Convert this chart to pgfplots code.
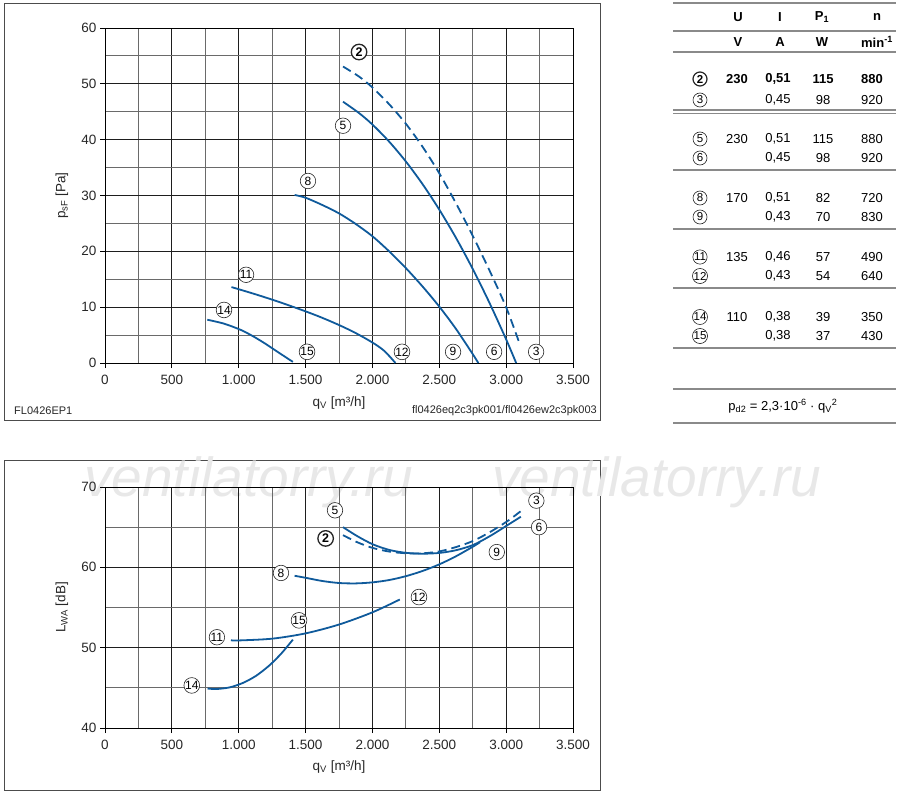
\documentclass[border=0pt]{standalone}
\usepackage{fontspec}
\setmainfont{Liberation Sans}
\usepackage{pgfplots}
\pgfplotsset{compat=1.18}
\definecolor{curve}{HTML}{0F5A9B}
\definecolor{gridmaj}{HTML}{1E1E1E}
\definecolor{gridmin}{HTML}{6A6A6A}
\definecolor{rulec}{HTML}{8A8A8A}
\newcommand\fs[1]{\fontsize{#1}{#1}\selectfont}
\tikzset{
  cl/.style={circle, draw=black!85, line width=0.6pt, fill=white, inner sep=0pt, minimum size=15.5pt, font=\fs{12}},
  clb/.style={cl, line width=1.3pt, font=\bfseries\fs{12.5}},
  tc/.style={circle, draw=black!85, line width=0.6pt, inner sep=0pt, minimum size=14pt, font=\fs{11.5}},
  tcb/.style={tc, line width=1.2pt, font=\bfseries\fs{11.5}},
  tt/.style={font=\fs{13}, inner sep=0pt, anchor=center},
}
\pgfplotsset{
  fanaxis/.style={
    scale only axis, anchor=south west, width=468pt, clip=false,
    xmin=0, xmax=3500, xtick={0,500,...,3500},
    xticklabels={0,500,1.000,1.500,2.000,2.500,3.000,3.500},
    minor xtick={250,750,...,3250},
    grid=both,
    major grid style={draw=gridmaj, line width=0.9pt},
    minor grid style={draw=gridmin, line width=0.85pt},
    axis line style={draw=black, line width=1pt},
    tick align=outside, major tick length=5pt, minor tick length=0pt,
    xtick pos=bottom, ytick pos=left,
    tick style={black, line width=0.8pt},
    ticklabel style={font=\fs{13.5}, text=black!85},
    xticklabel style={yshift=-4pt},
    xlabel={q\textsubscript{V} [m³/h]},
  },
  fan/.style={draw=curve, line width=1.8pt, smooth, tension=0.5, no marks},
  fandash/.style={fan, dash pattern=on 9pt off 5pt},
}
\begin{document}
\begin{tikzpicture}
\path[use as bounding box] (0pt,0pt) rectangle (900pt,-797pt);
% frames
\draw[black!70, line width=1pt] (4pt,-4pt) rectangle (600pt,-420pt);
\draw[black!70, line width=1pt] (4pt,-460pt) rectangle (600pt,-790pt);
% watermark
\node[anchor=base west, inner sep=0pt, text=black!9, font=\itshape\fs{55}] at (84pt,-496pt) {ventilatorry.ru};
\node[anchor=base west, inner sep=0pt, text=black!9, font=\itshape\fs{55}] at (492pt,-496pt) {ventilatorry.ru};
% footer texts
\node[anchor=west, inner sep=0pt, font=\fs{11}, text=black!85] at (14pt,-411pt) {FL0426EP1};
\node[anchor=east, inner sep=0pt, font=\fs{11}, text=black!85] at (597pt,-411pt) {fl0426eq2c3pk001/fl0426ew2c3pk003};

% ---------- top: pressure ----------
\begin{axis}[fanaxis, at={(105pt,-363pt)}, height=335pt,
  ymin=0, ymax=60, ytick={0,10,...,60}, yticklabels={0,10,20,30,40,50,60},
  minor ytick={5,15,...,55},
  ylabel={p\textsubscript{sF} [Pa]},
  every axis x label/.style={at={(axis description cs:0.5,-0.119)}, anchor=center, font=\fs{13.5}, text=black!85},
  every axis y label/.style={at={(axis description cs:-0.092,0.5)}, rotate=90, anchor=center, font=\fs{13.5}, text=black!85},
]
\addplot[fandash] coordinates {(1780,53.1) (1900,51.3) (2000,49.35) (2125,46.35) (2250,42.85) (2375,38.73) (2500,33.98) (2625,28.6) (2750,22.79) (2875,16.6) (3000,9.98) (3100,3.5)};
\addplot[fan] coordinates {(1780,46.8) (1900,44.76) (2000,42.71) (2125,39.65) (2250,36.09) (2375,32.03) (2500,27.47) (2625,22.41) (2750,16.85) (2875,10.79) (3000,4.23) (3075,0)};
\addplot[fan] coordinates {(1418,30.1) (1500,29.6) (1625,28.3) (1750,26.8) (1875,24.9) (2000,22.7) (2125,20.0) (2250,17.0) (2375,13.7) (2500,10.1) (2625,6.1) (2750,1.6) (2792,0)};
\addplot[fan] coordinates {(946,13.6) (1125,12.31) (1305,10.91) (1500,9.25) (1625,8.09) (1755,6.75) (1875,5.36) (2000,3.67) (2090,2.14) (2172,0)};
\addplot[fan] coordinates {(765,7.75) (890,7.05) (1018,5.9) (1110,4.75) (1193,3.55) (1300,1.85) (1405,0.2)};
\node[clb] at (axis cs:1900,55.7) {2};
\node[cl] at (axis cs:1780,42.5) {5};
\node[cl] at (axis cs:1518,32.6) {8};
\node[cl] at (axis cs:1055,15.8) {11};
\node[cl] at (axis cs:890,9.5) {14};
\node[cl] at (axis cs:1511,2.0) {15};
\node[cl] at (axis cs:2221,2.0) {12};
\node[cl] at (axis cs:2603,2.0) {9};
\node[cl] at (axis cs:2910,2.0) {6};
\node[cl] at (axis cs:3224,2.0) {3};
\end{axis}

% ---------- bottom: sound ----------
\begin{axis}[fanaxis, at={(105pt,-728pt)}, height=241pt,
  ymin=40, ymax=70, ytick={40,50,60,70}, yticklabels={40,50,60,70},
  minor ytick={45,55,65},
  ylabel={L\textsubscript{WA} [dB]},
  every axis x label/.style={at={(axis description cs:0.5,-0.162)}, anchor=center, font=\fs{13.5}, text=black!85},
  every axis y label/.style={at={(axis description cs:-0.092,0.5)}, rotate=90, anchor=center, font=\fs{13.5}, text=black!85},
]
\addplot[fan] coordinates {(1780,65.0) (1890,63.85) (2005,62.85) (2130,62.15) (2255,61.8) (2380,61.7) (2505,61.8) (2630,62.15) (2755,62.8) (2880,63.9) (3005,65.2) (3110,66.3)};
\addplot[fandash] coordinates {(1780,64.0) (1890,63.1) (2005,62.4) (2130,61.95) (2255,61.75) (2380,61.75) (2505,62.0) (2630,62.55) (2755,63.3) (2880,64.4) (3005,65.7) (3110,67.0)};
\addplot[fan] coordinates {(1418,58.95) (1500,58.7) (1625,58.3) (1750,58.05) (1875,58.0) (2000,58.13) (2125,58.42) (2250,58.9) (2375,59.55) (2500,60.37) (2625,61.38) (2750,62.56) (2805,63.13)};
\addplot[fan] coordinates {(942,50.92) (1000,50.9) (1250,51.12) (1500,51.78) (1750,52.88) (2000,54.4) (2205,56.0)};
\addplot[fan] coordinates {(767,44.92) (830,44.85) (930,45.05) (1030,45.6) (1130,46.5) (1230,47.8) (1320,49.3) (1405,51.0)};
\node[cl] at (axis cs:1720,67.1) {5};
\node[clb] at (axis cs:1650,63.6) {2};
\node[cl] at (axis cs:3226,68.3) {3};
\node[cl] at (axis cs:3246,65.0) {6};
\node[cl] at (axis cs:2930,61.9) {9};
\node[cl] at (axis cs:1316,59.3) {8};
\node[cl] at (axis cs:2348,56.3) {12};
\node[cl] at (axis cs:1451,53.4) {15};
\node[cl] at (axis cs:837,51.3) {11};
\node[cl] at (axis cs:649,45.3) {14};
\end{axis}

% ---------- table ----------
\foreach \yy in {3,31,52,110,113.5,170,229,288,348,389,423}
  \draw[rulec, line width=1.1pt] (673pt,-\yy pt) -- (896pt,-\yy pt);
\node[tt, font=\bfseries\fs{13}] at (738pt,-17pt) {U};
\node[tt, font=\bfseries\fs{13}] at (780pt,-17pt) {I};
\node[tt, font=\bfseries\fs{13}] at (822pt,-17pt) {P\textsubscript{1}};
\node[tt, font=\bfseries\fs{13}] at (877pt,-17pt) {n};
\node[tt, font=\bfseries\fs{13}] at (738pt,-42pt) {V};
\node[tt, font=\bfseries\fs{13}] at (780pt,-42pt) {A};
\node[tt, font=\bfseries\fs{13}] at (822pt,-42pt) {W};
\node[tt, font=\bfseries\fs{13}] at (877pt,-42pt) {min\textsuperscript{-1}};
% rows
\node[tcb] at (700pt,-79pt) {2};
\node[tt, font=\bfseries\fs{13}] at (737pt,-79pt) {230};
\node[tt, font=\bfseries\fs{13}] at (778pt,-79pt) {0,51};
\node[tt, font=\bfseries\fs{13}] at (823pt,-79pt) {115};
\node[tt, font=\bfseries\fs{13}] at (872pt,-79pt) {880};
\node[tc] at (700pt,-100pt) {3};
\node[tt] at (778pt,-100pt) {0,45};
\node[tt] at (823pt,-100pt) {98};
\node[tt] at (872pt,-100pt) {920};
\node[tc] at (700pt,-139pt) {5};
\node[tt] at (737pt,-139pt) {230};
\node[tt] at (778pt,-139pt) {0,51};
\node[tt] at (823pt,-139pt) {115};
\node[tt] at (872pt,-139pt) {880};
\node[tc] at (700pt,-158pt) {6};
\node[tt] at (778pt,-158pt) {0,45};
\node[tt] at (823pt,-158pt) {98};
\node[tt] at (872pt,-158pt) {920};
\node[tc] at (700pt,-198pt) {8};
\node[tt] at (737pt,-198pt) {170};
\node[tt] at (778pt,-198pt) {0,51};
\node[tt] at (823pt,-198pt) {82};
\node[tt] at (872pt,-198pt) {720};
\node[tc] at (700pt,-217pt) {9};
\node[tt] at (778pt,-217pt) {0,43};
\node[tt] at (823pt,-217pt) {70};
\node[tt] at (872pt,-217pt) {830};
\node[tc] at (700pt,-257pt) {11};
\node[tt] at (737pt,-257pt) {135};
\node[tt] at (778pt,-257pt) {0,46};
\node[tt] at (823pt,-257pt) {57};
\node[tt] at (872pt,-257pt) {490};
\node[tc] at (700pt,-276pt) {12};
\node[tt] at (778pt,-276pt) {0,43};
\node[tt] at (823pt,-276pt) {54};
\node[tt] at (872pt,-276pt) {640};
\node[tc] at (700pt,-317pt) {14};
\node[tt] at (737pt,-317pt) {110};
\node[tt] at (778pt,-317pt) {0,38};
\node[tt] at (823pt,-317pt) {39};
\node[tt] at (872pt,-317pt) {350};
\node[tc] at (700pt,-336pt) {15};
\node[tt] at (778pt,-336pt) {0,38};
\node[tt] at (823pt,-336pt) {37};
\node[tt] at (872pt,-336pt) {430};
\node[tt] at (783pt,-406pt) {p\textsubscript{d2} = 2,3·10\textsuperscript{-6} · q\textsubscript{V}\textsuperscript{2}};
\end{tikzpicture}
\end{document}
